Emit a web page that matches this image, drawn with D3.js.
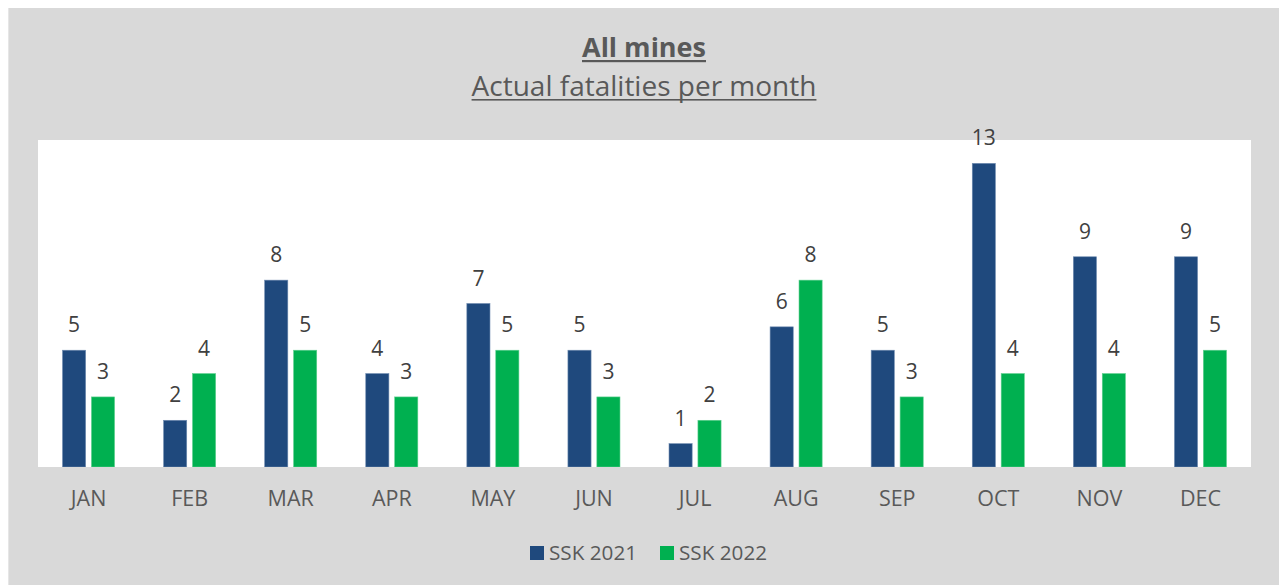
<!DOCTYPE html>
<html>
<head>
<meta charset="utf-8">
<script src="https://cdn.jsdelivr.net/npm/d3@7"></script>
<style>
  html, body { margin: 0; padding: 0; background: #fff; }
  svg { display: block; }
</style>
</head>
<body>
<div id="chart"></div>
<script>
// data
var MONTHS = ['JAN', 'FEB', 'MAR', 'APR', 'MAY', 'JUN', 'JUL', 'AUG', 'SEP', 'OCT', 'NOV', 'DEC'];
var SERIES = ['SSK 2021', 'SSK 2022'];
var SSK2021 = [5, 2, 8, 4, 7, 5, 1, 6, 5, 13, 9, 9];
var SSK2022 = [3, 4, 5, 3, 5, 3, 2, 8, 3, 4, 4, 5];
var COLORS = ['#1f497d', '#00b050'];

(function () {
    var W = 1279, H = 585;
    var font = "'Open Sans', 'Noto Sans', sans-serif";
    var ml = 38, mr = 1251, mt = 140, mb = 467;

    var svg = d3.select('#chart').append('svg')
        .attr('width', W).attr('height', H);

    // grey chart area
    svg.append('rect').attr('x', 8).attr('y', 8)
        .attr('width', W - 8).attr('height', H - 8)
        .attr('fill', '#d9d9d9');
    svg.append('line').attr('x1', 8.5).attr('x2', 8.5).attr('y1', 8).attr('y2', H)
        .attr('stroke', '#e6e6e6');

    // white plot area
    svg.append('rect').attr('x', ml).attr('y', mt)
        .attr('width', mr - ml).attr('height', mb - mt)
        .attr('fill', '#fff');

    // titles (underlined)
    function underlined(txt, y, size, weight, thick) {
        var t = svg.append('text').attr('x', 644).attr('y', y)
            .attr('text-anchor', 'middle')
            .attr('font-family', font).attr('font-size', size)
            .attr('font-weight', weight).attr('fill', '#595959')
            .text(txt);
        var w = t.node().getComputedTextLength();
        svg.append('rect').attr('x', 644 - w / 2).attr('y', y + 3)
            .attr('width', w).attr('height', thick).attr('fill', '#595959');
    }
    underlined('All mines', 57, 27, 'bold', 2.2);
    underlined('Actual fatalities per month', 96, 28, 'normal', 1.6);

    var x0 = d3.scaleBand().domain(MONTHS).range([ml, mr])
        .paddingInner(0.485).paddingOuter(0.2425);
    var x1 = d3.scaleBand().domain(SERIES).range([0, x0.bandwidth()])
        .paddingInner(0.2);
    var y = d3.scaleLinear().domain([0, 14]).range([mb, mt]);

    var data = [SSK2021, SSK2022];

    data.forEach(function (vals, k) {
        var g = svg.append('g');
        g.selectAll('rect').data(vals).enter().append('rect')
            .attr('x', function (d, i) { return x0(MONTHS[i]) + x1(SERIES[k]); })
            .attr('y', function (d) { return y(d); })
            .attr('width', x1.bandwidth())
            .attr('height', function (d) { return y(0) - y(d); })
            .attr('fill', COLORS[k])
            .attr('stroke', k === 0 ? '#6f8bb0' : '#5fd08f')
            .attr('stroke-width', 0.6);

        g.selectAll('text').data(vals).enter().append('text')
            .attr('x', function (d, i) { return x0(MONTHS[i]) + x1(SERIES[k]) + x1.bandwidth() / 2; })
            .attr('y', function (d) { return y(d) - 18; })
            .attr('text-anchor', 'middle')
            .attr('font-family', font).attr('font-size', 21)
            .attr('fill', '#404040')
            .text(function (d) { return d; });
    });

    // x axis
    var xAxis = svg.append('g').attr('transform', 'translate(0,' + mb + ')')
        .call(d3.axisBottom(x0).tickSize(0).tickPadding(39));
    xAxis.select('.domain').attr('stroke', '#d9d9d9');
    xAxis.selectAll('text')
        .attr('font-family', font).attr('font-size', 21.5).attr('fill', '#595959')
        .attr('dy', 0);

    // legend
    var lg = svg.append('g');
    var lx = [530, 660];
    SERIES.forEach(function (s, k) {
        lg.append('rect').attr('x', lx[k]).attr('y', 546)
            .attr('width', 14).attr('height', 14).attr('fill', COLORS[k]);
        lg.append('text').attr('x', lx[k] + 19).attr('y', 560)
            .attr('font-family', font).attr('font-size', 20.7).attr('fill', '#595959')
            .text(s);
    });
})();
</script>
</body>
</html>
